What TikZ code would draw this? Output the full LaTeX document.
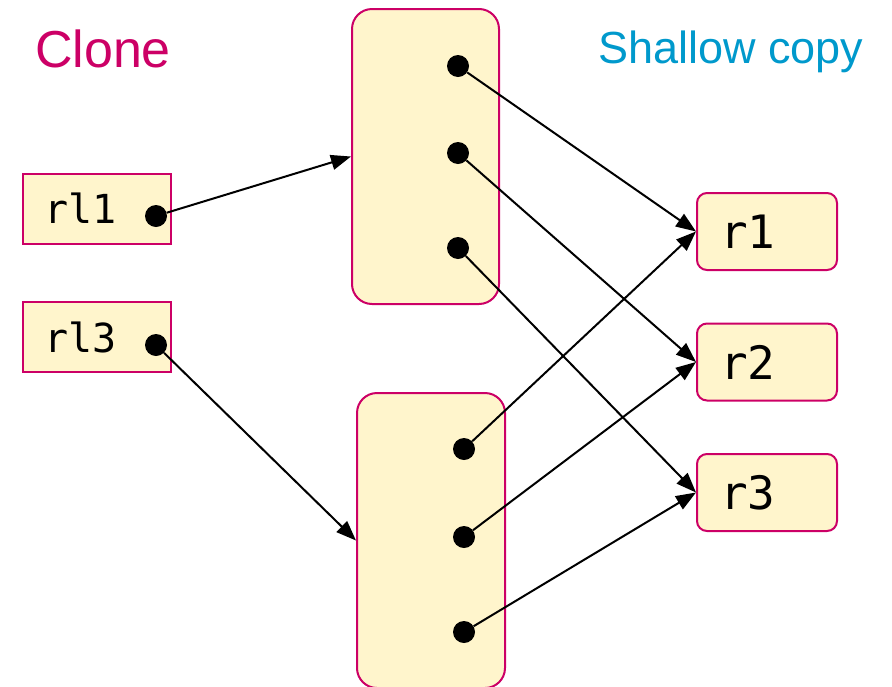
\documentclass[tikz,border=0pt]{standalone}
\usepackage{fontspec}
\setmainfont{Liberation Sans}
\newfontfamily\codefont{DejaVu Sans Mono}
\usetikzlibrary{arrows.meta,positioning}
\definecolor{clonered}{HTML}{CC0066}
\definecolor{copyblue}{HTML}{0099CC}
\definecolor{cellfill}{HTML}{FFF5CC}

\begin{document}
\begin{tikzpicture}[x=1pt,y=-1pt,
		cell/.style={draw=clonered, fill=cellfill, line width=2pt, inner sep=0pt},
		ptr/.style={circle, fill=black, minimum size=22pt, inner sep=0pt},
		code/.style={font=\codefont\fontsize{40}{40}\selectfont, anchor=west, inner sep=0pt},
		link/.style={-{Triangle[length=20pt,width=15pt]}, line width=2pt}]
	\useasboundingbox (0,0) rectangle (892,686);
	\clip (0,0) rectangle (892,686);

	% titles
	\node[text=clonered, font=\fontsize{52}{52}\selectfont, anchor=base] (clone) at (103,67) {Clone};
	\node[text=copyblue, font=\fontsize{45}{45}\selectfont, anchor=base] (shallow) at (731,63) {Shallow copy};

	% references on the left
	\node[cell, minimum width=148pt, minimum height=70pt] (rl1) at (97,208.5) {};
	\node[cell, minimum width=148pt, minimum height=70pt] (rl3) at (97,337) {};
	\node[code] (rl1txt) at ([xshift=22pt]rl1.west) {rl1};
	\node[code] (rl3txt) at ([xshift=22pt]rl3.west) {rl3};
	\node[ptr] (rl1dot) at (156,216) {};
	\node[ptr] (rl3dot) at (156,345) {};

	% the two arrays
	\node[cell, rounded corners=20pt, minimum width=147pt, minimum height=295pt] (top) at (425.5,156.5) {};
	\node[cell, rounded corners=20pt, minimum width=148pt, minimum height=295pt] (bot) at (431,540.5) {};
	\foreach \y [count=\i] in {66,153,248}
		\node[ptr] (t\i) at (458,\y) {};
	\foreach \y [count=\i] in {449,537,632}
		\node[ptr] (b\i) at (464,\y) {};

	% shared objects on the right
	\foreach \y [count=\i] in {231.5,362,492.5} {
		\node[cell, rounded corners=10pt, minimum width=140pt, minimum height=77pt] (r\i) at (767,\y) {};
		\node[code, font=\codefont\fontsize{46}{46}\selectfont] (r\i txt) at ([xshift=24pt]r\i.west) {r\i};
	}

	% pointers
	\draw[link] (rl1dot) -- (top.west);
	\draw[link] (rl3dot) -- (bot.west);
	\foreach \i in {1,2,3} {
		\draw[link] (t\i) -- (r\i.west);
		\draw[link] (b\i) -- (r\i.west);
	}
\end{tikzpicture}
\end{document}
